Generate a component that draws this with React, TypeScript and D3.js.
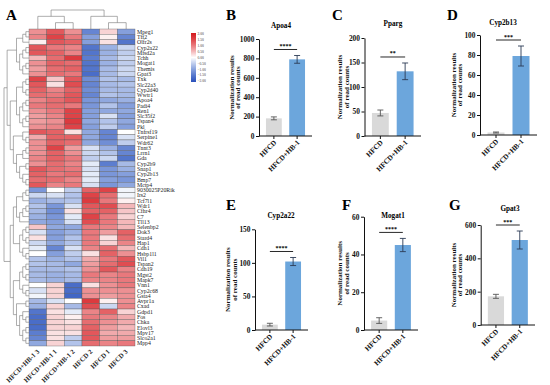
import React, { useEffect, useRef } from "react";
import * as d3 from "d3";

// heatmap rows (top to bottom) and columns (left to right)
const genes = [
  "Mpeg1", "Tff2", "Olfr2s", "Cyp2a22", "Mfsd2a", "Tchh", "Mogat1", "Themis", "Gpat3", "Txk",
  "Slc22a3", "Cyp2d40", "Wwtr1", "Apoa4", "Padi4", "Ren1", "Slc35f2", "Tspan4", "Pkl", "Tnfrsf19",
  "Serpine1", "Wdr62", "Tnnt3", "Lrrn1", "Gda", "Cyp2b9", "Snap1", "Cyp2b13", "Bmp7", "Mctp4",
  "9030025P20Rik", "Irs2", "Tcf7l1", "Wdr1", "Cfhr4", "C7", "Tll13", "Selenbp2", "Dok3", "Stard4",
  "Hap1", "Cdh1", "Hsbp1l1", "Vil1", "Tspan2", "Cdh19", "Mgst2", "Mapk7", "Vnn1", "Cyp2c68",
  "Gsta4", "Avpr1a", "Cxad", "Gdpd1", "Fos", "Chka", "Elovl3", "Mpv17", "Slco2a1", "Mpp4",
];
const heatColumns = ["HFCD+HB-1 3", "HFCD+HB-1 1", "HFCD+HB-1 2", "HFCD 2", "HFCD 1", "HFCD 3"];

// row z-scores, same order as genes
const zScores = [
  [0.8, 1.3, 0.8, -1.3, 0.3, -1.0], [0.9, 1.5, 1.0, -1.0, 0.1, -1.3], [0.1, 1.3, 1.2, -1.0, 0.2, -1.5],
  [1.3, 1.0, 0.9, -1.5, -0.8, -0.4], [1.3, 1.2, 0.9, -1.5, -0.8, -0.5], [0.5, 1.1, 1.6, -1.4, -0.7, -0.4],
  [0.8, 1.2, 1.1, -1.5, -0.8, -0.5], [0.7, 1.1, 1.2, -1.5, -0.7, -0.4], [0.8, 1.1, 1.0, -1.6, -0.7, -0.4],
  [1.5, 0.4, 1.3, -1.2, -0.6, -0.7], [1.3, 0.2, 1.4, -1.3, -0.7, -0.6], [1.2, 0.9, 1.2, -1.2, -0.7, -0.7],
  [1.1, 1.0, 1.3, -1.3, -0.6, -0.7], [0.9, 1.1, 1.3, -1.1, -0.9, -0.8], [1.0, 1.1, 1.0, -1.1, -0.6, -1.0],
  [0.8, 1.0, 1.5, -1.0, -0.9, -0.9], [0.7, 0.9, 1.5, -1.0, -0.3, -1.0], [0.7, 0.8, 1.6, -0.9, -0.6, -0.9],
  [0.8, 0.9, 1.5, -1.0, -0.5, -1.0], [1.3, 1.2, 0.2, -0.9, -1.3, 0.0], [0.6, 1.2, 1.2, -0.9, -1.3, -0.3],
  [0.8, 1.2, 1.1, -0.9, -1.2, -0.5], [0.8, 1.5, 0.7, -0.3, -0.8, -1.3], [0.8, 1.2, 0.8, -0.4, -0.6, -1.3],
  [0.9, 1.2, 1.0, -0.5, -0.4, -1.5], [0.8, 1.1, 0.9, -0.2, -1.4, -0.7], [1.3, 1.1, 1.0, -0.3, -1.1, -0.8],
  [1.2, 1.0, 1.1, -0.2, -1.1, -1.0], [1.1, 1.1, 0.9, -0.2, -1.0, -1.1], [1.3, 0.9, 1.0, -0.3, -1.1, -0.9],
  [-1.1, 0.0, -0.5, 1.2, 1.5, -0.1], [-0.4, -0.3, -0.6, 1.5, 1.1, -0.1], [-0.8, -0.7, -0.6, 1.6, 1.0, 0.1],
  [-0.6, -1.1, -0.3, 1.3, 1.4, 0.5], [-0.7, -1.2, 0.2, 1.2, 1.2, 0.4], [-0.8, -1.1, -0.2, 1.5, 1.0, 0.3],
  [-0.9, -1.0, -0.3, 1.4, 1.0, 0.5], [0.4, -0.9, -0.9, 1.0, 0.9, 0.5], [-0.3, -1.0, -0.8, 1.0, 0.7, 1.2],
  [0.2, -1.0, -0.6, 1.0, 0.2, 1.1], [-0.4, -0.9, -0.6, 1.0, 0.3, 0.9], [-0.2, -1.3, -0.3, 0.9, 1.1, 0.5],
  [0.0, -1.0, -0.5, 0.2, 1.2, 0.8], [-0.6, -0.8, -0.6, 0.6, 1.0, 1.3], [-0.6, -0.7, -0.9, 0.7, 1.1, 1.4],
  [-0.7, -0.7, -0.6, 0.8, 1.3, 0.9], [-0.7, -0.8, -0.7, 1.0, 0.9, 1.0], [-0.7, -0.8, -0.7, 0.9, 0.9, 1.0],
  [0.0, 0.3, -1.6, 0.2, 0.8, 1.0], [-0.3, 0.3, -1.6, 0.8, 0.8, 0.8], [-0.1, 0.3, -1.7, 0.8, 0.7, 0.8],
  [-0.7, -0.3, 0.0, 1.6, 0.1, 0.8], [-0.8, 0.3, -0.7, 1.4, -0.4, 0.9], [-1.5, 0.2, -0.2, 0.9, 1.2, 0.3],
  [-1.6, 0.3, 0.1, 1.0, 0.9, 0.6], [-1.6, 0.3, 0.2, 1.1, 0.8, 0.6], [-1.6, 0.3, 0.3, 1.2, 0.7, 0.5],
  [-1.4, 0.2, 0.2, 1.3, 0.6, 0.6], [-1.3, 0.2, -0.5, 1.3, 0.7, 0.7], [-0.9, 0.3, -0.6, 1.1, 0.9, 1.0],
];

// clustering trees (leaf = index into genes / heatColumns)
const redCluster = [
  [[[0, 1], 2], [[[3, 4], 5], [[6, 7], 8]]],
  [[[[9, 10], [11, 12]], [[[13, 14], 15], [[16, 17], 18]]], [[19, [20, 21]], [[[22, 23], 24], [[25, 26], [27, [28, 29]]]]]],
];
const blueCluster = [
  [[[[30, 31], 32], [[[33, 34], 35], 36]], [[[37, 38], [39, 40]], [41, [42, 43]]]],
  [[[[44, 45], [46, 47]], [48, [49, 50]]], [[51, 52], [[53, [54, 55]], [[56, 57], [58, 59]]]]],
];
const rowTree = [redCluster, blueCluster];
const colTree = [[0, [1, 2]], [3, [4, 5]]];

const legendTicks = [2, 1.5, 1, 0.5, 0, -0.5, -1, -1.5, -2];

// bar panels B-G
const groups = ["HFCD", "HFCD+HB-1"];
const panelLetters = ["B", "C", "D", "E", "F", "G"];
const barGenes = ["Apoa4", "Pparg", "Cyp2b13", "Cyp2a22", "Mogat1", "Gpat3"];
const hfcdMeans = [182, 47, 2.5, 8, 5, 172];
const hb1Means = [790, 132, 79, 102, 45, 510];
const hfcdErrors = [15, 6, 0.5, 2, 1.5, 12];
const hb1Errors = [40, 17, 10, 6, 3.5, 54];
const yMaxima = [1000, 200, 100, 150, 60, 600];
const tickSteps = [200, 50, 20, 50, 20, 200];
const significance = ["****", "**", "***", "****", "****", "***"];

const SERIF = "'Liberation Serif', 'Times New Roman', serif";

// per-panel placement; yt = distance of first y-title line from the axis
const panelLayout = [
  { x: 259, right: 312, top: 39, bottom: 136, lx: 226, ly: 20, tx: 281, ty: 27.5, yt: 27.5 },
  { x: 364.5, right: 421, top: 38, bottom: 136, lx: 332, ly: 20, tx: 393, ty: 25.5, yt: 24.5 },
  { x: 480, right: 537, top: 35, bottom: 135, lx: 447, ly: 20, tx: 503, ty: 24.5, yt: 26.5 },
  { x: 255, right: 308, top: 229.3, bottom: 330, lx: 226, ly: 210, tx: 281, ty: 217.5, yt: 27 },
  { x: 364, right: 418, top: 216.7, bottom: 330, lx: 342, ly: 210, tx: 393, ty: 217.5, yt: 24 },
  { x: 480.7, right: 535, top: 225, bottom: 325, lx: 449, ly: 210, tx: 510, ty: 211, yt: 27.5 },
];

export default function App() {
  const svgRef = useRef<SVGSVGElement>(null);

  useEffect(() => {
    if (!svgRef.current) return;
    const svg = d3.select(svgRef.current);
    svg.selectAll("*").remove();
    svg.append("rect").attr("width", 550).attr("height", 385).attr("fill", "#fff");

    // ---------- heatmap ----------
    const xHeat = d3.scaleBand().domain(heatColumns).range([29, 135]);
    const yHeat = d3.scaleBand().domain(genes).range([29, 346]);
    const color = d3.scaleLinear<string>()
      .domain([-2, 0, 2])
      .range(["#2a50bb", "#ffffff", "#d31a1e"])
      .interpolate(d3.interpolateRgb.gamma(0.65))
      .clamp(true);

    const cells = genes.flatMap((g, i) => heatColumns.map((c, j) => ({ g, c, v: zScores[i][j] })));
    svg.append("g")
      .selectAll("rect")
      .data(cells)
      .join("rect")
      .attr("x", d => xHeat(d.c)!)
      .attr("y", d => yHeat(d.g)!)
      .attr("width", xHeat.bandwidth())
      .attr("height", yHeat.bandwidth())
      .attr("fill", d => color(d.v))
      .attr("stroke", "#555")
      .attr("stroke-width", 0.35);

    svg.append("g")
      .selectAll("text")
      .data(genes)
      .join("text")
      .attr("x", 137)
      .attr("y", d => yHeat(d)! + yHeat.bandwidth() / 2)
      .attr("dy", "0.35em")
      .attr("font-family", SERIF)
      .attr("font-size", 5.8)
      .attr("fill", "#222")
      .text(d => d);

    svg.append("g")
      .selectAll("text")
      .data(heatColumns)
      .join("text")
      .attr("transform", d => `translate(${xHeat(d)! + xHeat.bandwidth() / 2 + 2},352) rotate(-45)`)
      .attr("text-anchor", "end")
      .attr("font-family", SERIF)
      .attr("font-weight", "bold")
      .attr("font-size", 6.8)
      .attr("fill", "#222")
      .text(d => d);

    // dendrograms
    const dendro = (tree: any, leafPos: (i: number) => number, hRange: number[], horizontal: boolean) => {
      const root: any = d3.hierarchy(tree, (d: any) => (Array.isArray(d) ? d : null));
      root.eachAfter((n: any) => {
        if (n.children) {
          n.h = (d3.max(n.children, (c: any) => c.h) as number) + 1;
          n.p = (n.children[0].p + n.children[n.children.length - 1].p) / 2;
        } else {
          n.h = 0;
          n.p = leafPos(n.data);
        }
      });
      const hs = d3.scaleLinear().domain([0, root.h]).range(hRange);
      const g = svg.append("g").attr("stroke", "#777").attr("stroke-width", 0.6).attr("fill", "none");
      root.each((n: any) => {
        if (!n.children) return;
        const first = n.children[0].p;
        const last = n.children[n.children.length - 1].p;
        const path = d3.path();
        if (horizontal) {
          path.moveTo(hs(n.h), first); path.lineTo(hs(n.h), last);
          n.children.forEach((c: any) => { path.moveTo(hs(c.h), c.p); path.lineTo(hs(n.h), c.p); });
        } else {
          path.moveTo(first, hs(n.h)); path.lineTo(last, hs(n.h));
          n.children.forEach((c: any) => { path.moveTo(c.p, hs(c.h)); path.lineTo(c.p, hs(n.h)); });
        }
        g.append("path").attr("d", path.toString());
      });
    };
    dendro(rowTree, i => yHeat(genes[i])! + yHeat.bandwidth() / 2, [29, 4], true);
    dendro(colTree, i => xHeat(heatColumns[i])! + xHeat.bandwidth() / 2, [29, 10], false);

    // colour key
    const defs = svg.append("defs");
    const grad = defs.append("linearGradient").attr("id", "heat-key")
      .attr("x1", "0%").attr("y1", "0%").attr("x2", "0%").attr("y2", "100%");
    legendTicks.forEach((t, i) => {
      grad.append("stop").attr("offset", `${(i / (legendTicks.length - 1)) * 100}%`).attr("stop-color", color(t));
    });
    const yKey = d3.scaleLinear().domain([2, -2]).range([34, 81]);
    svg.append("rect").attr("x", 191).attr("y", 33).attr("width", 5).attr("height", 49).attr("fill", "url(#heat-key)");
    svg.append("g")
      .selectAll("text")
      .data(legendTicks)
      .join("text")
      .attr("x", 197.5)
      .attr("y", d => yKey(d))
      .attr("dy", "0.35em")
      .attr("font-family", SERIF)
      .attr("font-size", 3.6)
      .attr("fill", "#333")
      .text(d => d3.format(".2f")(d));

    svg.append("text").attr("x", 6).attr("y", 20).attr("font-family", SERIF).attr("font-weight", "bold")
      .attr("font-size", 15).text("A");

    // ---------- bar panels ----------
    panelLetters.forEach((letter, k) => {
      const L = panelLayout[k];
      const g = svg.append("g").attr("font-family", SERIF).attr("font-weight", "bold");
      const y = d3.scaleLinear().domain([0, yMaxima[k]]).range([L.bottom, L.top]);
      const x = d3.scaleBand().domain(groups).range([L.x, L.right]).paddingInner(0.32).paddingOuter(0.3);
      const means = [hfcdMeans[k], hb1Means[k]];
      const errs = [hfcdErrors[k], hb1Errors[k]];
      const fills = ["#d9d9d9", "#6ca6dc"];

      g.append("text").attr("x", L.lx).attr("y", L.ly).attr("font-size", 15).text(letter);
      g.append("text").attr("x", L.tx).attr("y", L.ty).attr("text-anchor", "middle").attr("font-size", 7.2).text(barGenes[k]);

      g.selectAll("rect.bar")
        .data(groups)
        .join("rect")
        .attr("class", "bar")
        .attr("x", d => x(d)!)
        .attr("width", x.bandwidth())
        .attr("y", (d, i) => y(means[i]))
        .attr("height", (d, i) => L.bottom - y(means[i]))
        .attr("fill", (d, i) => fills[i]);

      // error bars
      groups.forEach((gr, i) => {
        const cx = x(gr)! + x.bandwidth() / 2;
        const eb = g.append("g").attr("stroke", i === 0 ? "#555" : "#2b3b55").attr("stroke-width", 0.9);
        eb.append("line").attr("x1", cx).attr("x2", cx).attr("y1", y(means[i] - errs[i])).attr("y2", y(means[i] + errs[i]));
        [means[i] - errs[i], means[i] + errs[i]].forEach(v => {
          eb.append("line").attr("x1", cx - 3).attr("x2", cx + 3).attr("y1", y(v)).attr("y2", y(v));
        });
      });

      // y axis
      const ticks = d3.range(0, yMaxima[k] + tickSteps[k] / 2, tickSteps[k]);
      const ya = g.append("g").attr("transform", `translate(${L.x},0)`)
        .call(d3.axisLeft(y).tickValues(ticks).tickFormat(d3.format("d")).tickSize(3).tickSizeOuter(0).tickPadding(1.5));
      ya.selectAll("path, line").attr("stroke", "#111").attr("stroke-width", 1);
      ya.selectAll("text").attr("font-size", 7.4).attr("font-family", SERIF).attr("font-weight", "bold").attr("fill", "#111");

      // x axis
      const xa = g.append("g").attr("transform", `translate(0,${L.bottom})`)
        .call(d3.axisBottom(x).tickSize(3).tickSizeOuter(0).tickFormat(() => ""));
      xa.select(".domain").attr("d", `M${L.x},0H${L.right}`);
      xa.selectAll("path, line").attr("stroke", "#111").attr("stroke-width", 1);
      g.selectAll("text.xl")
        .data(groups)
        .join("text")
        .attr("class", "xl")
        .attr("transform", d => `translate(${x(d)! + x.bandwidth() / 2 + 3},${L.bottom + 7}) rotate(-45)`)
        .attr("text-anchor", "end")
        .attr("font-size", 7.2)
        .attr("fill", "#111")
        .text(d => d);

      // y title
      const midY = (L.top + L.bottom) / 2;
      ["Normalization results", "of read counts"].forEach((line, i) => {
        g.append("text")
          .attr("transform", `translate(${L.x - L.yt + i * 6.2},${midY}) rotate(-90)`)
          .attr("text-anchor", "middle")
          .attr("dy", "0.35em")
          .attr("font-size", 7)
          .attr("fill", "#111")
          .text(line);
      });

      // significance
      const sigY = y(d3.max(means.map((m, i) => m + errs[i])) as number) - 6;
      const c0 = x(groups[0])! + x.bandwidth() / 2;
      const c1 = x(groups[1])! + x.bandwidth() / 2;
      g.append("line").attr("x1", c0).attr("x2", c1).attr("y1", sigY).attr("y2", sigY).attr("stroke", "#111").attr("stroke-width", 0.9);
      g.append("text").attr("x", (c0 + c1) / 2).attr("y", sigY - 1.5).attr("text-anchor", "middle")
        .attr("font-size", 6).text(significance[k]);
    });
  }, []);

  return (
    <div style={{ position: "fixed", left: 0, top: 0, width: 550, height: 385 }}>
      <svg ref={svgRef} width={550} height={385} style={{ display: "block" }} />
    </div>
  );
}
